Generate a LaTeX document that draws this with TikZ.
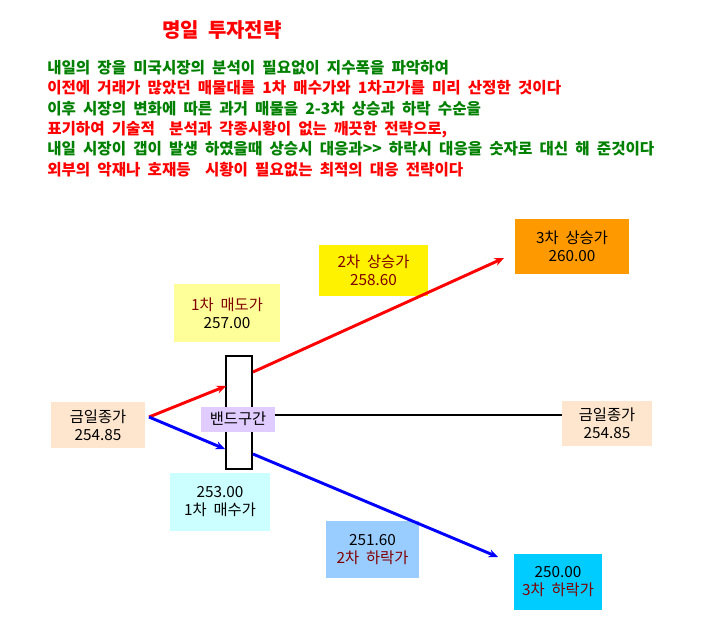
\documentclass[tikz,border=0pt]{standalone}
\usepackage{fontspec}
\usepackage{xcolor}
\usetikzlibrary{arrows.meta}
\newfontfamily\krfont[WordSpace=2]{Noto Sans CJK KR}
\definecolor{tanbox}{RGB}{253,229,206}
\definecolor{paleyellow}{RGB}{255,255,153}
\definecolor{lavenderbox}{RGB}{224,204,255}
\definecolor{palecyan}{RGB}{204,255,255}
\definecolor{orangebox}{RGB}{255,153,0}
\definecolor{skyblue}{RGB}{153,204,255}
\definecolor{cyanbox}{RGB}{0,204,255}
\definecolor{darkred}{RGB}{128,0,0}
\definecolor{notegreen}{RGB}{0,128,0}

\begin{document}
\begin{tikzpicture}[x=0.75pt, y=-0.75pt, font=\krfont\fontsize{11.5}{13.5}\selectfont,
  pricebox/.style={inner sep=0pt, align=center},
  upline/.style={-{Stealth[length=7pt,width=6pt]}, line width=2.2pt, red},
  downline/.style={-{Stealth[length=7pt,width=6pt]}, line width=2.2pt, blue}]
      \useasboundingbox (0,0) rectangle (717,633);
      % title and notes
      \node [red, font=\krfont\bfseries\fontsize{15}{17}\selectfont] (title) at (222,30) {명일 투자전략};
      \node [anchor=west, align=left, inner sep=0pt, font=\krfont\bfseries\fontsize{11.7}{15.2}\selectfont] (notes) at (47,118.5) {%
        \textcolor{notegreen}{내일의 장을 미국시장의 분석이 필요없이 지수폭을 파악하여}\\
        \textcolor{red}{이전에 거래가 많았던 매물대를 1차 매수가와 1차고가를 미리 산정한 것이다}\\
        \textcolor{notegreen}{이후 시장의 변화에 따른 과거 매물을 2-3차 상승과 하락 수순을}\\
        \textcolor{red}{표기하여 기술적\ \ 분석과 각종시황이 없는 깨끗한 전략으로,}\\
        \textcolor{notegreen}{내일 시장이 갭이 발생 하였을때 상승시 대응과>> 하락시 대응을 숫자로 대신 해 준것이다}\\
        \textcolor{red}{외부의 악재나 호재등\ \ 시황이 필요없는 최적의 대응 전략이다}};
      % band
      \node [draw, fill=white, line width=1.5pt, minimum width=19.5pt, minimum height=84.75pt, inner sep=0pt] (band) at (239,412.5) {};
      \node [pricebox, fill=lavenderbox, minimum width=55.5pt, minimum height=18.75pt] (bandlbl) at (238,419) {밴드구간};
      % price boxes
      \node [pricebox, fill=tanbox, minimum width=70.5pt, minimum height=34.5pt] (close1) at (98,425) {금일종가\\254.85};
      \node [pricebox, fill=tanbox, minimum width=67.5pt, minimum height=33.75pt] (close2) at (607,423.5) {금일종가\\254.85};
      \node [pricebox, fill=paleyellow, minimum width=79.5pt, minimum height=43.5pt] (sell1) at (227,313) {\textcolor{darkred}{1차 매도가}\\257.00};
      \node [pricebox, fill=palecyan, minimum width=75pt, minimum height=43.5pt] (buy1) at (220,501.5) {253.00\\1차 매수가};
      \node [pricebox, fill=yellow, text=darkred, minimum width=81.75pt, minimum height=38.25pt] (up2) at (373.5,270.5) {2차 상승가\\258.60};
      \node [pricebox, fill=orangebox, minimum width=85.5pt, minimum height=41.25pt] (up3) at (572,246.5) {3차 상승가\\260.00};
      \node [pricebox, fill=skyblue, minimum width=69.75pt, minimum height=42.75pt] (down2) at (372.5,549.5) {251.60\\\textcolor{darkred}{2차 하락가}};
      \node [pricebox, fill=cyanbox, minimum width=66pt, minimum height=42pt] (down3) at (558,582) {250.00\\\textcolor{darkred}{3차 하락가}};
      % connectors
      \coordinate (fork) at (149,417);
      \coordinate (bandtop) at (226,386);
      \coordinate (bandbot) at (225,449);
      \coordinate (upstart) at (253,372);
      \coordinate (upend) at (504,258);
      \coordinate (downstart) at (253,454);
      \coordinate (downend) at (498,557);
      \coordinate (flatend) at (562,415);
      \draw [upline] (fork) -- (bandtop);
      \draw [downline] (fork) -- (bandbot);
      \draw [upline] (upstart) -- (upend);
      \draw [downline] (downstart) -- (downend);
      \draw [line width=1.8pt] (bandlbl.east |- flatend) -- (flatend);
\end{tikzpicture}
\end{document}
